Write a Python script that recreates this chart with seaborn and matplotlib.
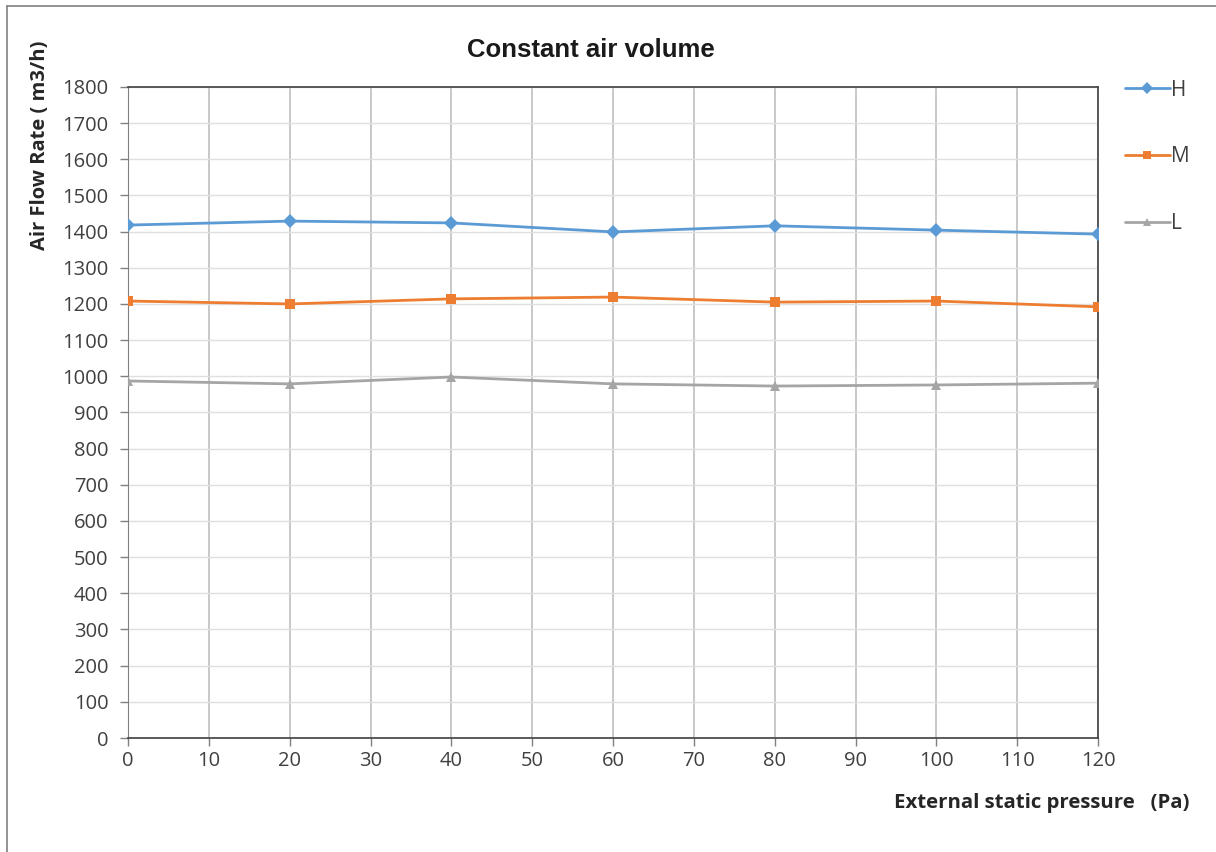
import pandas as pd
import seaborn as sns
import matplotlib.pyplot as plt
from matplotlib.lines import Line2D

# Values
pressure = [0, 20, 40, 60, 80, 100, 120]
flow_h = [1418, 1429, 1424, 1399, 1416, 1404, 1393]
flow_m = [1208, 1200, 1214, 1219, 1205, 1208, 1192]
flow_l = [987, 979, 998, 979, 973, 976, 981]
modes = ['H', 'M', 'L']
colors = ['#5B9BD5', '#ED7D31', '#A5A5A5']

df = pd.DataFrame({
    'pressure': pressure * 3,
    'flow': flow_h + flow_m + flow_l,
    'mode': ['H'] * 7 + ['M'] * 7 + ['L'] * 7,
})

sns.set_style('white')
plt.rcParams['font.family'] = ['Open Sans', 'DejaVu Sans']

fig = plt.figure(figsize=(12.16, 8.52), dpi=100)
ax = fig.add_axes([0.1053, 0.1338, 0.7977, 0.7642])

sns.lineplot(data=df, x='pressure', y='flow', hue='mode', style='mode',
             hue_order=modes, style_order=modes,
             palette=dict(zip(modes, colors)),
             markers={'H': 'D', 'M': 's', 'L': '^'}, dashes=False,
             markersize=7.5, markeredgewidth=0, linewidth=2, ax=ax,
             zorder=3)

ax.set_xlim(0, 120)
ax.set_ylim(0, 1800)
ax.set_xticks(range(0, 121, 10))
ax.set_yticks(range(0, 1801, 100))
ax.tick_params(axis='both', labelsize=14.5, labelcolor='#404040',
               direction='out', length=6, width=1, color='#808080',
               left=True, bottom=True)
ax.tick_params(axis='y', pad=8)
ax.xaxis.grid(True, color='#BFBFBF', linewidth=1.2)
ax.yaxis.grid(True, color='#E0E0E0', linewidth=1)
ax.set_axisbelow(True)
for side in ['top', 'right', 'bottom']:
    ax.spines[side].set_color('#404040')
    ax.spines[side].set_linewidth(1.2)
ax.spines['left'].set_color('#808080')
ax.set_xlabel('')
ax.set_ylabel('')

fig.text(591 / 1216, 0.941, 'Constant air volume', ha='center', va='center',
         fontsize=18.5, fontweight='bold', family='Liberation Sans',
         color='#1a1a1a')
fig.text(0.033, 1 - 145 / 852, 'Air Flow Rate ( m3/h)', rotation=90,
         ha='center', va='center', fontsize=14.5, fontweight='bold')
fig.text(1190 / 1216, 1 - 803 / 852, 'External static pressure   (Pa)',
         ha='right', va='center', fontsize=14.7, fontweight='bold')

ax.legend(loc='upper left', bbox_to_anchor=(1.008, 1.04), frameon=False,
          fontsize=15, labelspacing=2.2, handlelength=2.2,
          handletextpad=0.05, labelcolor='#404040', markerscale=0.85)

# outer frame (left and top edges of the original picture)
fig.add_artist(Line2D([7 / 1216, 7 / 1216], [0, 1 - 6 / 852],
                      transform=fig.transFigure, color='#808080', lw=1.2))
fig.add_artist(Line2D([7 / 1216, 1], [1 - 6 / 852, 1 - 6 / 852],
                      transform=fig.transFigure, color='#808080', lw=1.2))

fig.savefig('out.png', dpi=100)
